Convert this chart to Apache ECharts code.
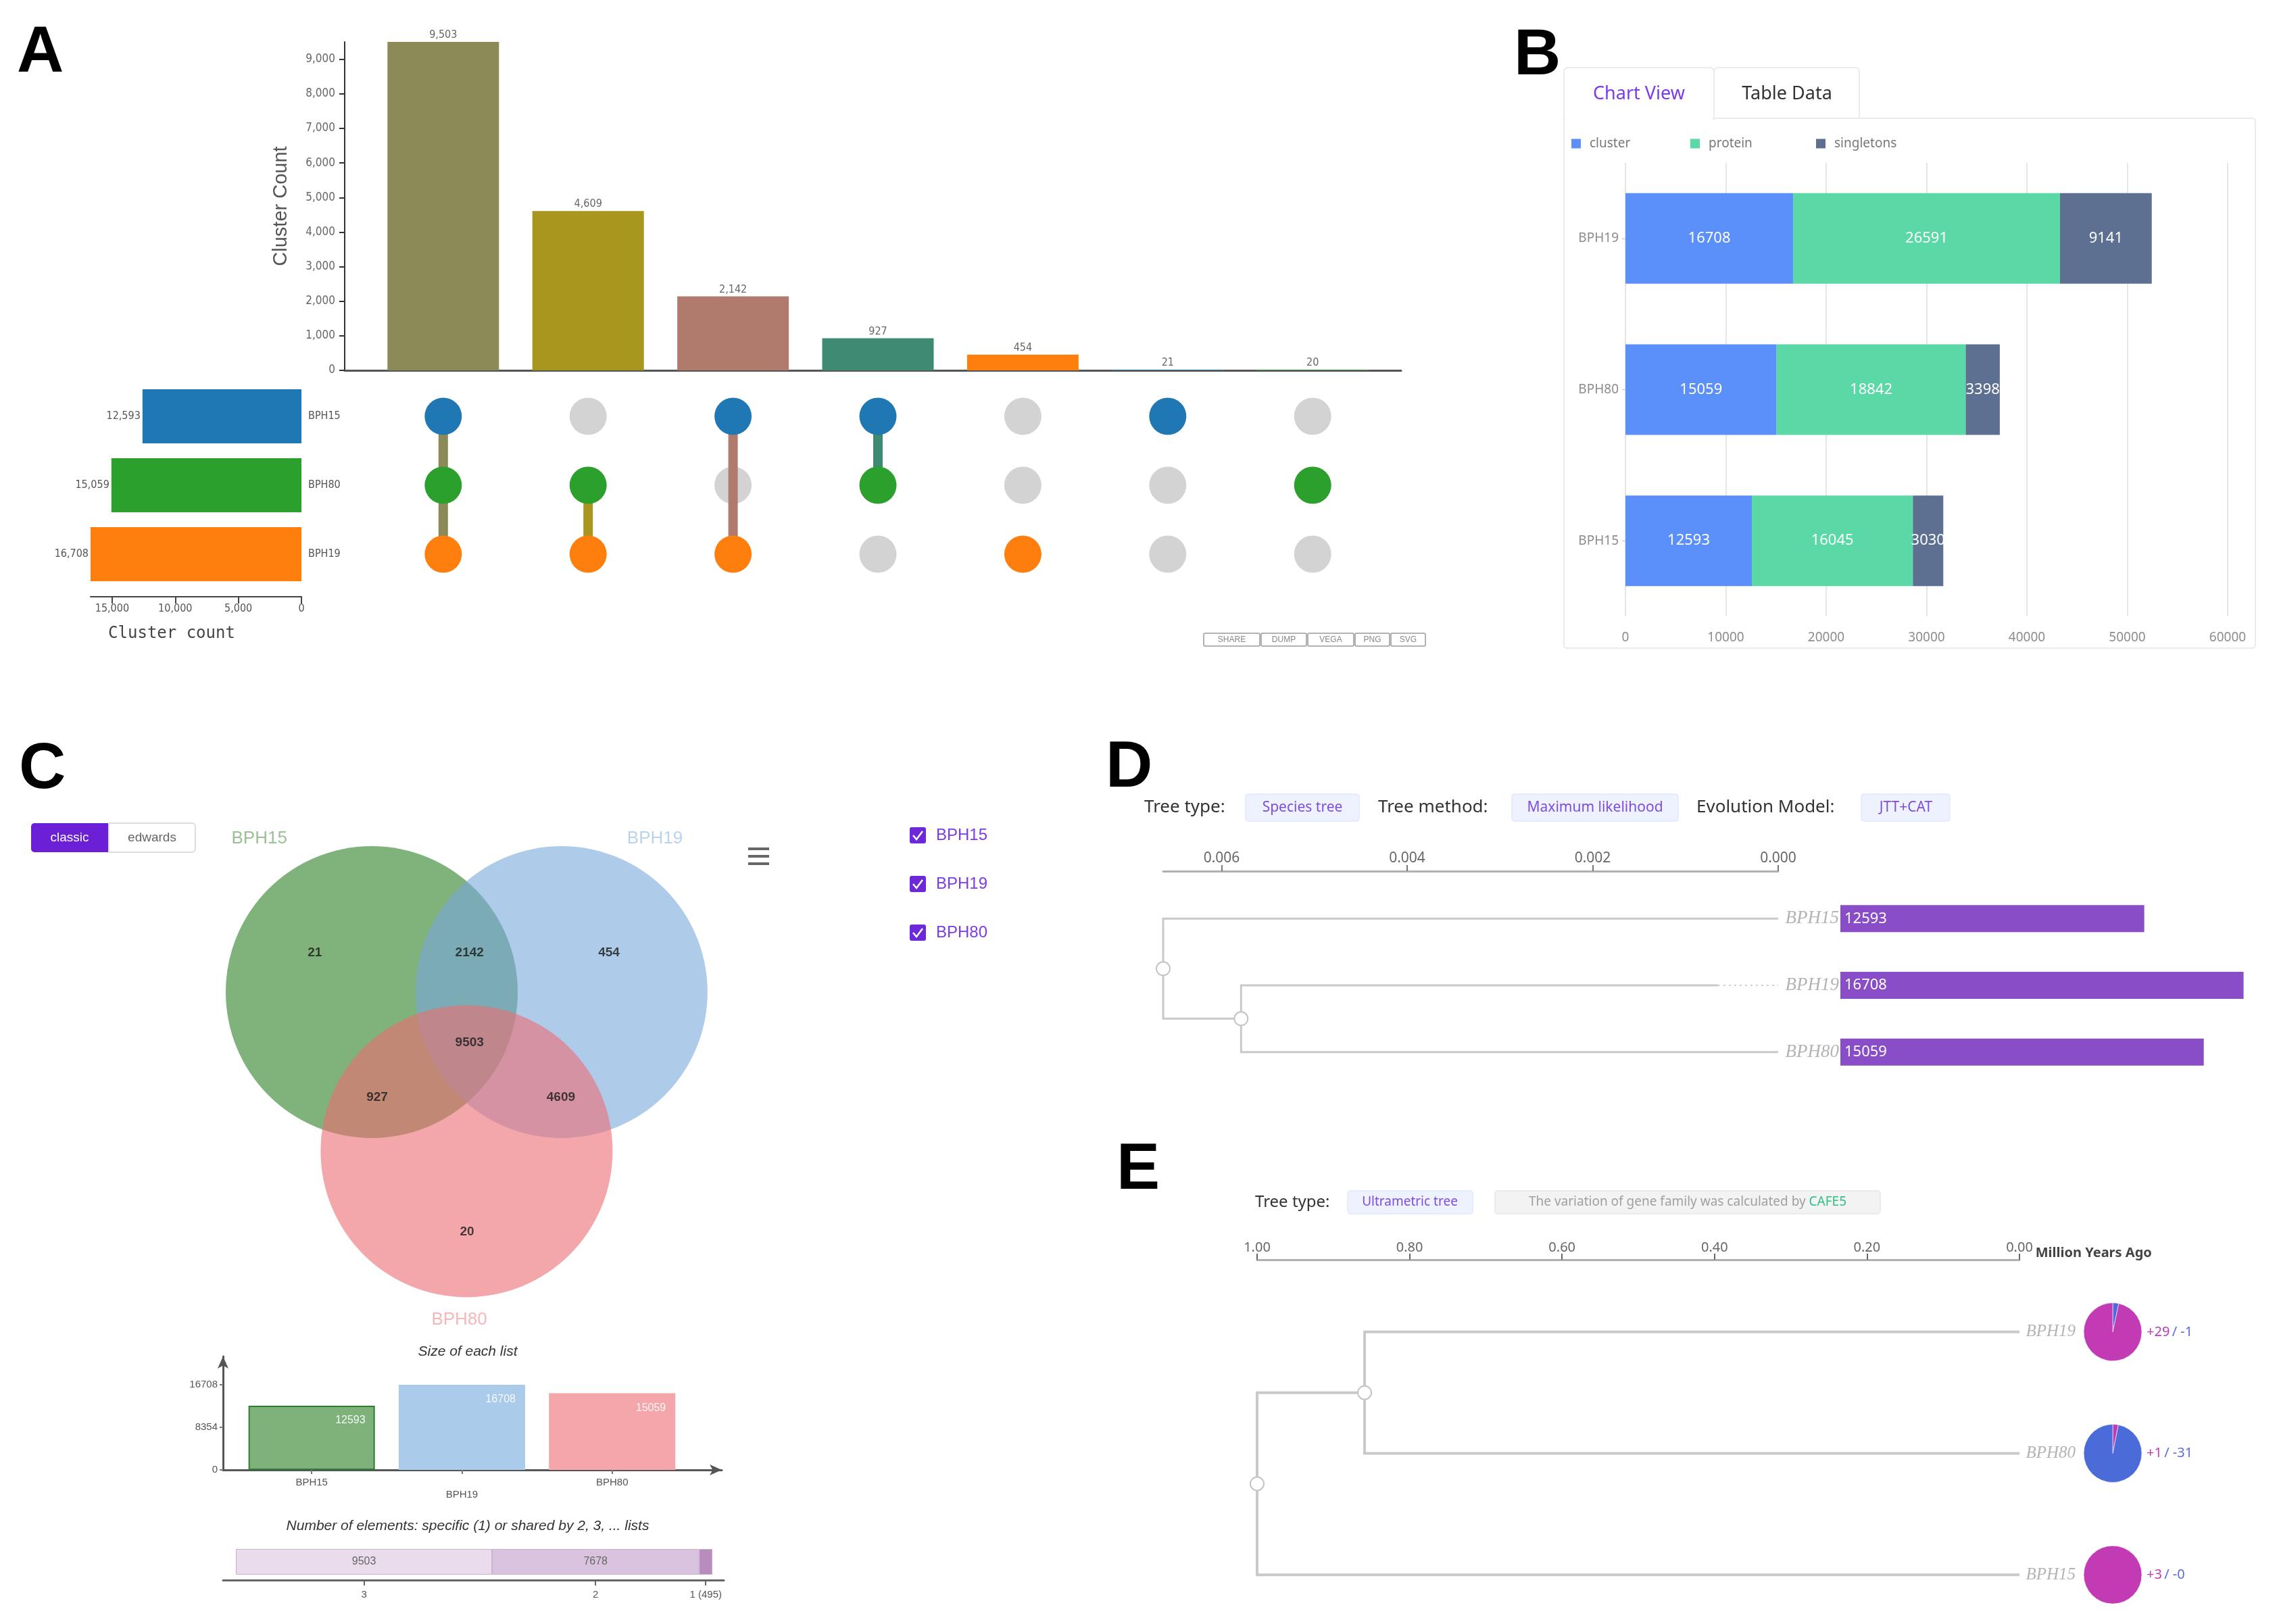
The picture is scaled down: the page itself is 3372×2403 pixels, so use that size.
<!DOCTYPE html>
<html>
<head>
<meta charset="utf-8">
<title>Pan-genome overview</title>
<script src="https://cdn.jsdelivr.net/npm/echarts@6.0.0/dist/echarts.min.js"></script>
<style>
html,body{margin:0;padding:0;background:#ffffff;}
#chart{width:3372px;height:2403px;}
</style>
</head>
<body>
<div id="chart"></div>
<script>
// ================= DATA =================
// Panel A (UpSet plot)
const setNames = ['BPH15', 'BPH80', 'BPH19'];
const setSizes = [12593, 15059, 16708];
const comboCounts = [9503, 4609, 2142, 927, 454, 21, 20];
const comboMembers = [['BPH15','BPH80','BPH19'], ['BPH80','BPH19'], ['BPH15','BPH19'], ['BPH15','BPH80'], ['BPH19'], ['BPH15'], ['BPH80']];
const exportButtons = ['SHARE', 'DUMP', 'VEGA', 'PNG', 'SVG'];
// Panel B (stacked bars)
const bCategories = ['BPH15', 'BPH80', 'BPH19'];
const bCluster = [12593, 15059, 16708];
const bProtein = [16045, 18842, 26591];
const bSingletons = [3030, 3398, 9141];
const bSeriesNames = ['cluster', 'protein', 'singletons'];
// Panel C (Venn + list sizes)
const vennSetNames = ['BPH15', 'BPH19', 'BPH80'];
const vennRegionCounts = [21, 2142, 454, 9503, 927, 4609, 20];
const listNames = ['BPH15', 'BPH19', 'BPH80'];
const listSizes = [12593, 16708, 15059];
const sharedLabels = ['3', '2', '1 (495)'];
const sharedCounts = [9503, 7678, 495];
// Panel D (species tree + cluster counts)
const dLeaves = ['BPH15', 'BPH19', 'BPH80'];
const dLeafCounts = [12593, 16708, 15059];
const dNodes = ['root', 'n1', 'BPH15', 'BPH19', 'BPH80'];
const dParents = [null, 'root', 'root', 'n1', 'n1'];
const dHeights = [0.00663, 0.00579, 0, 0.00065, 0];
// Panel E (ultrametric tree + gene family gains / losses)
const eLeaves = ['BPH19', 'BPH80', 'BPH15'];
const eNodes = ['root', 'n1', 'BPH19', 'BPH80', 'BPH15'];
const eParents = [null, 'root', 'n1', 'n1', 'root'];
const eHeights = [1.0, 0.859, 0, 0, 0];
const eGains = [29, 1, 3];
const eLosses = [1, 31, 0];

// ================= STYLE / LAYOUT =================
const setColors = {BPH15: '#1f77b4', BPH80: '#2ca02c', BPH19: '#ff7f0e'};
const comboColors = ['#8c8a56', '#a9961f', '#b07b6d', '#3e8a72', '#ff7f0e', '#1f77b4', '#2ca02c'];
const bColors = ['#5b8ff9', '#5ad8a6', '#5d7092'];
const vennFill = ['rgba(43,127,37,0.6)', 'rgba(120,168,220,0.6)', 'rgba(237,108,113,0.6)'];
const vennNameColors = ['#7fb27b', '#a9c8e8', '#f3a5a9'];
const vennCenters = [[0, 0], [1.3, 0], [0.65, 1.09]];     // layout in radius units
const vennLabelPos = [[-0.39,-0.27],[0.67,-0.27],[1.625,-0.27],[0.67,0.347],[0.037,0.722],[1.296,0.722],[0.653,1.644]];
const vennNamePos = [[-0.77,-1.05],[1.94,-1.05],[0.6,2.245]];
const listColors = ['#7fb27b', '#aacbea', '#f4a6aa'];
const sharedColors = ['#eadbed', '#dac3de', '#b88dbe'];
const gainColor = '#c23ab4', lossColor = '#4b6bd8';

const narrow = "'Liberation Sans Narrow','DejaVu Sans Condensed','Roboto Condensed','Liberation Sans',sans-serif";
const sans = "'Noto Sans','Open Sans',sans-serif";
const arial = "'Liberation Sans',Arial,sans-serif";
const serif = "'Liberation Serif','DejaVu Serif',serif";
const mono = "'DejaVu Sans Mono','Liberation Mono',monospace";
const fmtComma = v => Math.round(v).toLocaleString('en-US');
const fmtPlain = v => String(Math.round(v));

// ================= DERIVED =================
function treeLayout(nodes, parents, heights, leaves) {
  const y = {}, h = {};
  leaves.forEach((n, i) => { y[n] = i; });
  nodes.forEach((n, i) => { h[n] = heights[i]; });
  function getY(n) {
    if (y[n] !== undefined) return y[n];
    const kids = nodes.filter((m, k) => parents[k] === n);
    const v = kids.map(getY).reduce((a, b) => a + b, 0) / kids.length;
    y[n] = v; return v;
  }
  nodes.forEach(getY);
  const edges = [];
  nodes.forEach((n, i) => { if (parents[i]) edges.push([h[n], y[n], h[parents[i]], y[parents[i]]]); });
  const internal = nodes.filter(n => leaves.indexOf(n) < 0).map(n => [h[n], y[n]]);
  const extensions = leaves.filter(n => h[n] > 0).map(n => [h[n], y[n], 0, y[n]]);
  return {y, h, edges, internal, extensions};
}
const dTree = treeLayout(dNodes, dParents, dHeights, dLeaves);
const eTree = treeLayout(eNodes, eParents, eHeights, eLeaves);

const inactiveDots = [], activeDots = [], connectors = [];
comboMembers.forEach((mem, i) => {
  const rows = [];
  setNames.forEach((s, r) => {
    if (mem.indexOf(s) >= 0) { rows.push(r); activeDots.push({value: [i, r], itemStyle: {color: setColors[s]}}); }
    else inactiveDots.push([i, r]);
  });
  if (rows.length > 1) connectors.push([i, Math.min(...rows), Math.max(...rows)]);
});

const listMax = Math.max(...listSizes);
const listTicks = [0, listMax / 2, listMax];
const sharedTotal = sharedCounts.reduce((a, b) => a + b, 0);
const sharedCenters = [];
sharedCounts.reduce((acc, v) => { sharedCenters.push(acc + v / 2); return acc + v; }, 0);

// ================= GRAPHIC DECORATION =================
const graphic = [];
function T(text, x, y, st) {
  graphic.push({type: 'text', x, y, z: 10, style: Object.assign({text, fill: '#333', fontSize: 20, fontFamily: sans, verticalAlign: 'middle', align: 'left'}, st || {})});
}
function R(x, y, w, h, st, r) {
  graphic.push({type: 'rect', z: 0, shape: {x, y, width: w, height: h, r: r || 0}, style: Object.assign({fill: '#fff'}, st || {})});
}
// panel letters
[['A', 25, 80], ['B', 2240, 84], ['C', 28, 1140], ['D', 1636, 1138], ['E', 1652, 1733]].forEach(l =>
  T(l[0], l[1], l[2], {fontSize: 96, fontWeight: 'bold', fontFamily: arial, fill: '#000'}));
// A export buttons
const btnX = [1781, 1866, 1935, 2005, 2058], btnW = [83, 67, 68, 51, 51];
exportButtons.forEach((b, i) => {
  R(btnX[i], 937, btnW[i], 19, {stroke: '#999', lineWidth: 1.5}, 2);
  T(b, btnX[i] + btnW[i] / 2, 947, {fontSize: 12, fill: '#888', align: 'center', fontFamily: arial});
});
// B tabs and frame
R(2314, 175, 1023, 784, {stroke: '#ebebeb', lineWidth: 2}, 4);
R(2314, 100, 222, 76, {stroke: '#ebebeb', lineWidth: 2}, [6, 6, 0, 0]);
R(2536, 100, 215, 75, {stroke: '#ebebeb', lineWidth: 2}, [6, 6, 0, 0]);
graphic.push({type: 'rect', z: 1, shape: {x: 2316, y: 172, width: 218, height: 6}, style: {fill: '#fff'}});
T('Chart View', 2425, 139, {fontSize: 27, fill: '#7c3aed', align: 'center'});
T('Table Data', 2644, 139, {fontSize: 27, fill: '#333', align: 'center'});
// C toggle
R(46, 1218, 115, 43, {fill: '#6b1fd6'}, [5, 0, 0, 5]);
R(161, 1218, 128, 43, {stroke: '#dddddd', lineWidth: 2}, [0, 5, 5, 0]);
T('classic', 103, 1240, {fontSize: 19, fill: '#fff', align: 'center', fontFamily: arial});
T('edwards', 225, 1240, {fontSize: 19, fill: '#666', align: 'center', fontFamily: arial});
// C hamburger
[1256, 1267, 1278].forEach(y => graphic.push({type: 'rect', z: 5, shape: {x: 1107, y: y - 2, width: 31, height: 4}, style: {fill: '#666'}}));
// C checkbox legend
vennSetNames.forEach((n, i) => {
  const cy = 1236 + i * 72;
  graphic.push({type: 'rect', z: 5, shape: {x: 1346, y: cy - 12, width: 24, height: 24, r: 3}, style: {fill: '#6d28d9'}});
  graphic.push({type: 'polyline', z: 6, shape: {points: [[1351, cy], [1356, cy + 6], [1365, cy - 6]]}, style: {stroke: '#fff', lineWidth: 2.5, fill: null}});
  T(n, 1385, cy, {fontSize: 24, fill: '#7c3aed', fontFamily: arial});
});
// C titles
T('Size of each list', 692, 2000, {fontSize: 21, fontStyle: 'italic', fill: '#333', align: 'center', fontFamily: arial});
T('Number of elements: specific (1) or shared by 2, 3, ... lists', 692, 2258, {fontSize: 21, fontStyle: 'italic', fill: '#333', align: 'center', fontFamily: arial});
// D header
const tagStyle = {fill: '#eef2ff', stroke: '#e0e7ff', lineWidth: 1.5};
T('Tree type:', 1693, 1195, {fontSize: 26, fill: '#333'});
R(1843, 1175, 168, 40, tagStyle, 4);
T('Species tree', 1927, 1195, {fontSize: 21, fill: '#7c4ddf', align: 'center'});
T('Tree method:', 2039, 1195, {fontSize: 26, fill: '#333'});
R(2237, 1175, 246, 40, tagStyle, 4);
T('Maximum likelihood', 2360, 1195, {fontSize: 21, fill: '#7c4ddf', align: 'center'});
T('Evolution Model:', 2510, 1195, {fontSize: 26, fill: '#333'});
R(2754, 1175, 131, 40, tagStyle, 4);
T('JTT+CAT', 2820, 1195, {fontSize: 21, fill: '#7c4ddf', align: 'center'});
// E header
T('Tree type:', 1857, 1779, {fontSize: 24, fill: '#333'});
R(1994, 1762, 185, 34, tagStyle, 4);
T('Ultrametric tree', 2086, 1779, {fontSize: 19, fill: '#7c4ddf', align: 'center'});
R(2212, 1762, 570, 34, {fill: '#f3f3f3', stroke: '#e6e6e6', lineWidth: 1.5}, 4);
T('{a|The variation of gene family was calculated by }{b|CAFE5}', 2497, 1779, {align: 'center', fontSize: 19,
  rich: {a: {fill: '#a0a0a0', fontSize: 19, fontFamily: sans}, b: {fill: '#2fbf85', fontSize: 19, fontFamily: sans}}});

// ================= GRIDS & AXES =================
const grids = [
  {left: 510, top: 62, width: 1563, height: 486},   // 0 upset bars
  {left: 510, top: 565, width: 1563, height: 306},  // 1 upset matrix
  {left: 134, top: 565, width: 312, height: 306},   // 2 set size bars
  {left: 2405, top: 241, width: 891, height: 671},  // 3 panel B
  {left: 334, top: 1252, width: 756, height: 712.8},// 4 venn
  {left: 330, top: 2007, width: 738, height: 168},  // 5 list sizes
  {left: 330, top: 2292, width: 741, height: 38},   // 6 shared bar
  {left: 1721, top: 1310, width: 910, height: 296}, // 7 D tree
  {left: 2723, top: 1310, width: 607, height: 296}, // 8 D bars
  {left: 1860, top: 1881, width: 1128, height: 539} // 9 E tree
].map(g => Object.assign({outerBoundsMode: 'none', containLabel: false, show: false}, g));

const hidden = {show: false};
const xAxis = [
  {gridIndex: 0, type: 'value', min: -0.68, max: 6.61, axisLine: {show: true, onZero: false, lineStyle: {color: '#555', width: 3}}, axisTick: hidden, axisLabel: hidden, splitLine: hidden},
  {gridIndex: 1, type: 'value', min: -0.68, max: 6.61, show: false},
  {gridIndex: 2, type: 'value', inverse: true, min: 0, max: 16708, interval: 5000, position: 'bottom', offset: 12,
    axisLine: {show: true, onZero: false, lineStyle: {color: '#444', width: 2}},
    axisTick: {show: true, length: 10, lineStyle: {color: '#444', width: 2}},
    axisLabel: {color: '#555', fontSize: 16, fontFamily: narrow, formatter: fmtComma, showMaxLabel: false, margin: 10},
    splitLine: hidden,
    name: 'Cluster count', nameLocation: 'middle', nameGap: 43,
    nameTextStyle: {fontFamily: mono, fontSize: 24, color: '#444', padding: [0, 72, 0, 0]}},
  {gridIndex: 3, type: 'value', min: 0, max: 60000, interval: 10000,
    axisLine: {show: false, onZero: false}, axisTick: hidden,
    axisLabel: {color: '#8c8c8c', fontSize: 19, fontFamily: sans, margin: 22, formatter: fmtPlain},
    splitLine: {show: true, lineStyle: {color: '#e6e6e6', width: 2}}},
  {gridIndex: 4, type: 'value', min: -1, max: 2.5, show: false},
  {gridIndex: 5, type: 'value', min: -0.59, max: 2.73,
    axisLine: {show: true, onZero: false, symbol: ['none', 'arrow'], symbolSize: [12, 18], lineStyle: {color: '#555', width: 3}},
    axisTick: {show: true, customValues: [0, 1, 2], length: 6, lineStyle: {color: '#777', width: 2}},
    axisLabel: {customValues: [0, 1, 2], color: '#555', fontSize: 15, fontFamily: arial, margin: 10, lineHeight: 18,
      formatter: v => { const i = Math.round(v); return (i === 1 ? '\n' : '') + listNames[i]; }},
    splitLine: hidden},
  {gridIndex: 6, type: 'value', min: -sharedTotal * 0.027, max: sharedTotal * 1.024, offset: 8,
    axisLine: {show: true, onZero: false, lineStyle: {color: '#666', width: 3}},
    axisTick: {show: true, customValues: sharedCenters, length: 8, lineStyle: {color: '#666', width: 2}},
    axisLabel: {customValues: sharedCenters, color: '#555', fontSize: 15, fontFamily: arial, margin: 14,
      formatter: v => { let k = 0, best = Infinity; sharedCenters.forEach((c, i) => { if (Math.abs(c - v) < best) { best = Math.abs(c - v); k = i; } }); return sharedLabels[k]; }},
    splitLine: hidden},
  {gridIndex: 7, type: 'value', inverse: true, min: 0, max: dHeights[0], interval: 0.002, position: 'top', offset: 21,
    axisLine: {show: true, onZero: false, lineStyle: {color: '#b0b0b0', width: 3}},
    axisTick: {show: true, length: 9, lineStyle: {color: '#777', width: 2}},
    axisLabel: {color: '#666', fontSize: 21, fontFamily: sans, formatter: v => v.toFixed(3), showMaxLabel: false, margin: 8},
    splitLine: hidden},
  {gridIndex: 8, type: 'value', min: 0, max: 17000, show: false},
  {gridIndex: 9, type: 'value', inverse: true, min: 0, max: 1, interval: 0.2, position: 'top', offset: 17,
    axisLine: {show: true, onZero: false, lineStyle: {color: '#b0b0b0', width: 3}},
    axisTick: {show: true, length: 9, lineStyle: {color: '#666', width: 2}},
    axisLabel: {color: '#666', fontSize: 20, fontFamily: sans, formatter: v => v.toFixed(2), margin: 8},
    splitLine: hidden,
    name: 'Million Years Ago', nameLocation: 'start', nameGap: 21,
    nameTextStyle: {color: '#444', fontSize: 20, fontWeight: 'bold', fontFamily: sans, verticalAlign: 'bottom'}}
];
const yAxis = [
  {gridIndex: 0, type: 'value', min: 0, max: 9503, interval: 1000,
    axisLine: {show: true, onZero: false, lineStyle: {color: '#333', width: 2}},
    axisTick: {show: true, length: 8, lineStyle: {color: '#333', width: 2}},
    axisLabel: {color: '#666', fontSize: 17, fontFamily: narrow, formatter: fmtComma, showMaxLabel: false, margin: 14},
    splitLine: hidden,
    name: 'Cluster Count', nameLocation: 'middle', nameGap: 80, nameRotate: 90,
    nameTextStyle: {color: '#555', fontSize: 29, fontFamily: arial}},
  {gridIndex: 1, type: 'value', inverse: true, min: -0.5, max: 2.5, show: false},
  {gridIndex: 2, type: 'category', data: setNames, inverse: true, position: 'right',
    axisLine: {show: false, onZero: false}, axisTick: hidden,
    axisLabel: {color: '#555', fontSize: 16, fontFamily: narrow, margin: 10}},
  {gridIndex: 3, type: 'category', data: bCategories,
    axisLine: {show: false, onZero: false}, axisTick: {show: true, alignWithLabel: true, length: 5, lineStyle: {color: '#bbb'}},
    axisLabel: {color: '#8c8c8c', fontSize: 19, fontFamily: sans, margin: 10}},
  {gridIndex: 4, type: 'value', inverse: true, min: -1, max: 2.3, show: false},
  {gridIndex: 5, type: 'value', min: 0, max: listMax * 4 / 3,
    axisLine: {show: true, onZero: false, symbol: ['none', 'arrow'], symbolSize: [12, 18], lineStyle: {color: '#555', width: 3}},
    axisTick: {show: true, customValues: listTicks, length: 5, lineStyle: {color: '#777', width: 2}},
    axisLabel: {customValues: listTicks, color: '#555', fontSize: 15, fontFamily: arial, margin: 8, formatter: fmtPlain},
    splitLine: hidden},
  {gridIndex: 6, type: 'category', data: ['shared'], show: false},
  {gridIndex: 7, type: 'value', inverse: true, min: -0.5, max: 2.5, show: false},
  {gridIndex: 8, type: 'category', data: dLeaves, inverse: true, show: false},
  {gridIndex: 9, type: 'value', inverse: true, min: -0.5, max: 2.5, show: false}
];

// ================= SERIES =================
const treeEdgeSeries = (xi, data, width) => ({
  type: 'custom', xAxisIndex: xi, yAxisIndex: xi, z: 3, data,
  renderItem: (params, api) => {
    const c = api.coord([api.value(0), api.value(1)]);
    const p = api.coord([api.value(2), api.value(3)]);
    return {type: 'polyline', shape: {points: [[p[0], p[1]], [p[0], c[1]], [c[0], c[1]]]},
      style: {stroke: '#c9c9c9', lineWidth: width, fill: null}};
  }
});
const treeNodeSeries = (xi, data) => ({
  type: 'scatter', xAxisIndex: xi, yAxisIndex: xi, z: 4, symbolSize: 20, clip: false, data,
  itemStyle: {color: '#fff', borderColor: '#c4c4c4', borderWidth: 2, opacity: 1}
});
const leafLabelSeries = (xi, leaves, dist, size) => ({
  type: 'scatter', xAxisIndex: xi, yAxisIndex: xi, z: 1, symbolSize: 1, clip: false,
  itemStyle: {color: 'rgba(0,0,0,0)'},
  data: leaves.map((n, i) => ({value: [0, i], name: n})),
  label: {show: true, position: 'right', distance: dist, formatter: p => p.name,
    fontStyle: 'italic', fontFamily: serif, color: '#a0a0a0', fontSize: size}
});

const series = [
  // A: intersection bars
  {type: 'bar', xAxisIndex: 0, yAxisIndex: 0, barWidth: 165,
    data: comboCounts.map((v, i) => ({value: [i, v], itemStyle: {color: comboColors[i]}})),
    label: {show: true, position: 'top', distance: 2, color: '#666', fontSize: 16, fontFamily: narrow, formatter: p => fmtComma(p.value[1])}},
  // A: matrix
  {type: 'scatter', xAxisIndex: 1, yAxisIndex: 1, symbolSize: 55, z: 2, itemStyle: {color: '#d3d3d3', opacity: 1}, data: inactiveDots},
  {type: 'custom', xAxisIndex: 1, yAxisIndex: 1, z: 3, data: connectors,
    renderItem: (params, api) => {
      const a = api.coord([api.value(0), api.value(1)]);
      const b = api.coord([api.value(0), api.value(2)]);
      return {type: 'line', shape: {x1: a[0], y1: a[1], x2: b[0], y2: b[1]},
        style: {stroke: comboColors[api.value(0)], lineWidth: 14}};
    }},
  {type: 'scatter', xAxisIndex: 1, yAxisIndex: 1, symbolSize: 55, z: 4, itemStyle: {opacity: 1}, data: activeDots},
  // A: set sizes
  {type: 'bar', xAxisIndex: 2, yAxisIndex: 2, barWidth: 80,
    data: setSizes.map((v, i) => ({value: v, itemStyle: {color: setColors[setNames[i]]}})),
    label: {show: true, position: 'left', distance: 3, color: '#555', fontSize: 16, fontFamily: narrow, formatter: p => fmtComma(p.value)}},
  // B: stacked bars
  ...[bCluster, bProtein, bSingletons].map((arr, k) => ({
    name: bSeriesNames[k], type: 'bar', stack: 'total', xAxisIndex: 3, yAxisIndex: 3, barWidth: 134,
    itemStyle: {color: bColors[k]}, data: arr,
    label: {show: true, position: 'inside', color: '#fff', fontSize: 22, fontFamily: sans}
  })),
  // C: venn circles
  {type: 'custom', xAxisIndex: 4, yAxisIndex: 4, z: 2, data: vennCenters,
    renderItem: (params, api) => {
      const c = api.coord([api.value(0), api.value(1)]);
      const r = api.size([1, 0])[0];
      return {type: 'circle', shape: {cx: c[0], cy: c[1], r}, style: {fill: vennFill[params.dataIndex]}};
    }},
  {type: 'scatter', xAxisIndex: 4, yAxisIndex: 4, z: 5, symbolSize: 1, clip: false, itemStyle: {color: 'rgba(0,0,0,0)'},
    data: vennRegionCounts.map((v, i) => ({value: vennLabelPos[i], name: String(v)})),
    label: {show: true, position: 'inside', formatter: p => p.name, color: '#1a1a1a', fontWeight: 'bold', fontSize: 19, fontFamily: arial}},
  {type: 'scatter', xAxisIndex: 4, yAxisIndex: 4, z: 5, symbolSize: 1, clip: false, itemStyle: {color: 'rgba(0,0,0,0)'},
    data: vennSetNames.map((n, i) => ({value: vennNamePos[i], name: n, label: {color: vennNameColors[i]}})),
    label: {show: true, position: 'inside', formatter: p => p.name, fontSize: 26, fontFamily: arial}},
  // C: list sizes
  {type: 'bar', xAxisIndex: 5, yAxisIndex: 5, barWidth: 187,
    data: listSizes.map((v, i) => ({value: [i, v], itemStyle: {color: listColors[i], borderColor: i === 0 ? '#2e7d32' : listColors[i], borderWidth: i === 0 ? 2 : 0}})),
    label: {show: true, position: 'insideTopRight', distance: 14, color: 'rgba(255,255,255,0.9)', fontSize: 16, fontFamily: arial, formatter: p => String(p.value[1])}},
  // C: shared stacked bar
  ...sharedCounts.map((v, k) => ({
    type: 'bar', stack: 'shared', xAxisIndex: 6, yAxisIndex: 6, barWidth: 38, data: [v],
    itemStyle: {color: sharedColors[k], borderColor: '#c9aecd', borderWidth: 1},
    label: {show: v > 1000, position: 'inside', color: '#666', fontSize: 16, fontFamily: arial}
  })),
  // D: tree
  treeEdgeSeries(7, dTree.edges, 3),
  {type: 'custom', xAxisIndex: 7, yAxisIndex: 7, z: 3, data: dTree.extensions,
    renderItem: (params, api) => {
      const a = api.coord([api.value(0), api.value(1)]);
      const b = api.coord([api.value(2), api.value(3)]);
      return {type: 'line', shape: {x1: a[0], y1: a[1], x2: b[0], y2: b[1]}, style: {stroke: '#cfcfcf', lineWidth: 2, lineDash: [3, 5]}};
    }},
  treeNodeSeries(7, dTree.internal),
  leafLabelSeries(7, dLeaves, 10, 27),
  {type: 'bar', xAxisIndex: 8, yAxisIndex: 8, barWidth: 40, z: 6, data: dLeafCounts,
    itemStyle: {color: '#8a4dc8'},
    label: {show: true, position: 'insideLeft', distance: 6, color: '#fff', fontSize: 22, fontFamily: sans}},
  // E: tree
  treeEdgeSeries(9, eTree.edges, 4),
  treeNodeSeries(9, eTree.internal),
  leafLabelSeries(9, eLeaves, 9, 25),
  {type: 'custom', xAxisIndex: 9, yAxisIndex: 9, z: 5,
    data: eLeaves.map((n, i) => [0, i, eGains[i], eLosses[i]]),
    renderItem: (params, api) => {
      const c = api.coord([api.value(0), api.value(1)]);
      const g = api.value(2), l = api.value(3);
      const cx = c[0] + 138, cy = c[1], r = 43, tot = g + l;
      const slices = [{v: g, color: gainColor}, {v: l, color: lossColor}].filter(s => s.v > 0).sort((a, b) => a.v - b.v);
      let ang = -Math.PI / 2;
      const children = slices.map(s => {
        const a0 = ang; ang += 2 * Math.PI * s.v / tot;
        return {type: 'sector', shape: {cx, cy, r, r0: 0, startAngle: a0, endAngle: ang, clockwise: true},
          style: {fill: s.color, stroke: 'rgba(255,255,255,0.6)', lineWidth: 1}};
      });
      children.push({type: 'text', x: cx + 50, y: cy, style: {
        text: '{g|+' + g + '} {l|/ -' + l + '}', verticalAlign: 'middle', align: 'left',
        rich: {g: {fill: gainColor, fontSize: 20, fontFamily: sans}, l: {fill: '#5b6be0', fontSize: 20, fontFamily: sans}}}});
      return {type: 'group', children};
    }}
];

const legends = bSeriesNames.map((n, k) => ({
  data: [n], left: [2325, 2501, 2687][k], top: 203, padding: 0, icon: 'rect', itemWidth: 14, itemHeight: 14,
  selectedMode: false, textStyle: {color: '#777', fontSize: 19, fontFamily: sans, padding: [0, 0, 0, 8]}
}));

const chart = echarts.init(document.getElementById('chart'), null, {renderer: 'canvas', width: 3372, height: 2403});
chart.setOption({
  animation: false,
  backgroundColor: '#ffffff',
  textStyle: {fontFamily: sans},
  grid: grids,
  xAxis: xAxis,
  yAxis: yAxis,
  legend: legends,
  graphic: graphic,
  series: series
});
</script>
</body>
</html>
